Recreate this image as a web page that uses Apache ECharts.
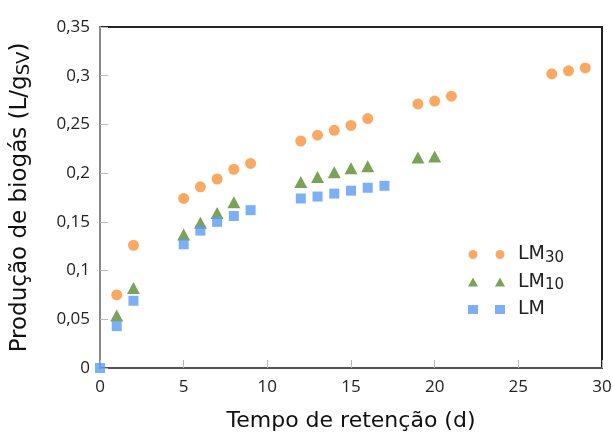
<!DOCTYPE html>
<html><head><meta charset="utf-8">
<script src="https://cdn.jsdelivr.net/npm/echarts@6/dist/echarts.min.js"></script>
<style>html,body{margin:0;padding:0;background:#fff}#c{width:613px;height:433px}</style>
</head><body><div id="c"></div>
<script>
const daysLM30 = [1,2,5,6,7,8,9,12,13,14,15,16,19,20,21,27,28,29];
const valsLM30 = [0.075,0.126,0.174,0.186,0.194,0.204,0.210,0.233,0.239,0.244,0.249,0.256,0.271,0.274,0.279,0.302,0.305,0.308];
const daysLM10 = [1,2,5,6,7,8,12,13,14,15,16,19,20];
const valsLM10 = [0.054,0.082,0.137,0.149,0.159,0.170,0.191,0.196,0.201,0.205,0.207,0.216,0.217];
const daysLM = [0,1,2,5,6,7,8,9,12,13,14,15,16,17];
const valsLM = [0,0.043,0.069,0.127,0.141,0.150,0.156,0.162,0.174,0.176,0.179,0.182,0.185,0.187];
const xTicks = [0,5,10,15,20,25,30];
const yTicks = ['0','0,05','0,1','0,15','0,2','0,25','0,3','0,35'];

const mk = (d,v) => d.map((x,i)=>[x,v[i]]);
const FONT = 'DejaVu Sans';
const TICKFONT = 'Open Sans';
const chart = echarts.init(document.getElementById('c'));
const legendNames = ['LM30','LM10','LM'];
const legendText = (color) => ({
  fontSize:19,color:color,fontFamily:FONT,
  rich:{n:{fontSize:19,lineHeight:22,fontFamily:FONT,color:color,padding:[0,0,0,8]},
        s:{fontSize:15,lineHeight:13,verticalAlign:'bottom',fontFamily:FONT,color:color}}
});
const legendFmt = n => n==='LM' ? '{n|LM}{s| }' : '{n|LM}{s|'+n.slice(2)+'}';
chart.setOption({
  animation:false,
  textStyle:{fontFamily:FONT},
  grid:{left:100,right:11,top:27,bottom:65,show:true,borderColor:'#222',borderWidth:2,outerBoundsMode:'none',containLabel:false},
  legend:[
    {left:468, top:245, padding:0, orient:'vertical', itemGap:7, itemWidth:10, itemHeight:9,
     selectedMode:false, data:legendNames, formatter:legendFmt, textStyle:legendText('rgba(0,0,0,0)')},
    {left:495, top:245, padding:0, orient:'vertical', itemGap:7, itemWidth:10, itemHeight:9, selectedMode:false,
     data:legendNames, formatter:legendFmt, textStyle:legendText('#222')}
  ],
  xAxis:{type:'value',min:0,max:30,interval:5,
    name:'Tempo de retenção (d)',nameLocation:'middle',nameGap:42,
    nameTextStyle:{fontSize:22,color:'#111',fontFamily:FONT},
    axisLine:{show:true,lineStyle:{color:'#555',width:2}},
    axisTick:{show:true,inside:true,length:8,lineStyle:{color:'#bbb',width:1}},
    axisLabel:{fontSize:17,color:'#222',margin:11,fontFamily:TICKFONT,formatter:v=>String(v)},
    splitLine:{show:false}},
  yAxis:{type:'value',min:0,max:0.35,interval:0.05,
    name:'{a|Produção de biogás (L/g}{b|SV}{a|)}',nameLocation:'middle',nameGap:67,
    nameTextStyle:{rich:{a:{fontSize:23,color:'#111',fontFamily:FONT},b:{fontSize:18,color:'#111',fontFamily:FONT,verticalAlign:'bottom',padding:[7,0,0,0]}}},
    axisLine:{show:true,lineStyle:{color:'#888',width:2}},
    axisTick:{show:true,inside:true,length:8,lineStyle:{color:'#bbb',width:1}},
    axisLabel:{fontSize:17,color:'#222',margin:10,fontFamily:TICKFONT,formatter:(v)=>yTicks[Math.round(v/0.05)]},
    splitLine:{show:false}},
  series:[
    {name:'LM30',type:'scatter',data:mk(daysLM30,valsLM30),symbol:'circle',symbolSize:11,itemStyle:{color:'#F7943A'}},
    {name:'LM10',type:'scatter',data:mk(daysLM10,valsLM10),symbol:'triangle',symbolSize:[13,12],itemStyle:{color:'#5A8C2E'}},
    {name:'LM',type:'scatter',data:mk(daysLM,valsLM),symbol:'rect',symbolSize:10,itemStyle:{color:'#5B9BF2'}}
  ]
});
</script></body></html>
